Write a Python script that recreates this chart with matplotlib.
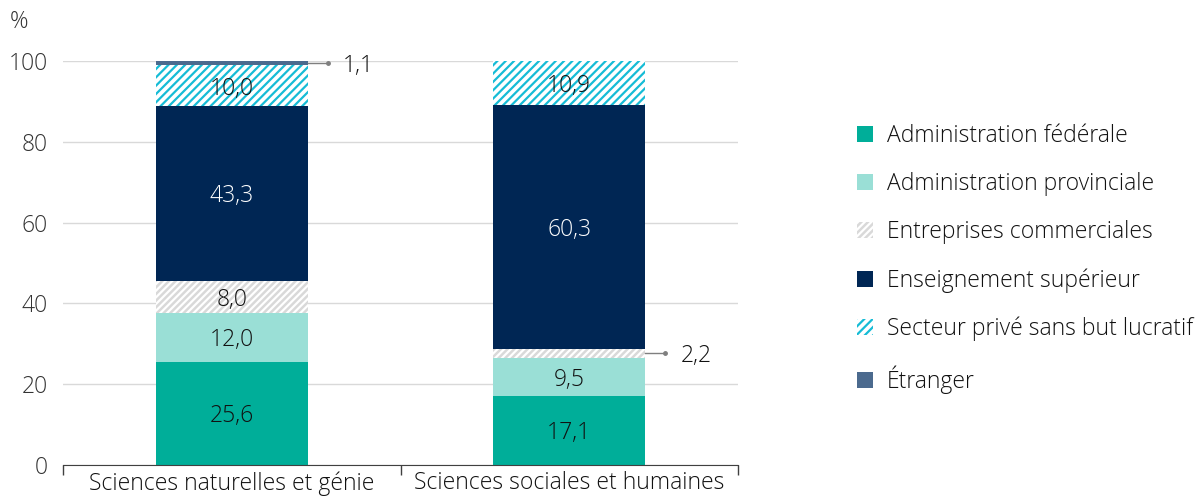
import matplotlib
matplotlib.use('Agg')
import numpy as np
import matplotlib.pyplot as plt

plt.rcParams['font.family'] = ['Open Sans', 'DejaVu Sans']
plt.rcParams['font.weight'] = 'light'
plt.rcParams['hatch.linewidth'] = 1.6

# donnees (%)
categories = ['Sciences naturelles et génie', 'Sciences sociales et humaines']
secteurs = ['Administration fédérale', 'Administration provinciale',
            'Entreprises commerciales', 'Enseignement supérieur',
            'Secteur privé sans but lucratif', 'Étranger']
valeurs = [
    [25.6, 17.1],   # Administration fédérale
    [12.0, 9.5],    # Administration provinciale
    [8.0, 2.2],     # Entreprises commerciales
    [43.3, 60.3],   # Enseignement supérieur
    [10.0, 10.9],   # Secteur privé sans but lucratif
    [1.1, 0.0],     # Étranger
]

# style de chaque serie : couleur de fond, hachure, couleur hachure, couleur texte
styles = [
    dict(face='#00ae99', hatch=None, edge='#00ae99', txt='#111111'),
    dict(face='#9adfd6', hatch=None, edge='#9adfd6', txt='#111111'),
    dict(face='#d9d9d9', hatch='/////', edge='white', txt='#111111'),
    dict(face='#002654', hatch=None, edge='#002654', txt='white'),
    dict(face='white', hatch='////', edge='#16bcd6', txt='#111111'),
    dict(face='#4b6a8e', hatch=None, edge='#4b6a8e', txt='#111111'),
]
fs = 16.5

fig = plt.figure(figsize=(11.98, 4.96), dpi=100)
ax = fig.add_axes([63 / 1198, 1 - 465 / 496, 675 / 1198, 404 / 496])

x = np.arange(len(categories))
largeur = 0.45
bas = np.zeros(len(categories))
handles = []
for i, nom in enumerate(secteurs):
    st = styles[i]
    v = np.array(valeurs[i])
    bars = ax.bar(x, v, largeur, bottom=bas, color=st['face'], edgecolor=st['edge'],
                  hatch=st['hatch'], linewidth=0, label=nom, zorder=3)
    handles.append(bars)
    for j, val in enumerate(v):
        if val >= 5:
            ax.text(x[j], bas[j] + val / 2, f'{val:.1f}'.replace('.', ','),
                    ha='center', va='center_baseline', fontsize=fs, color=st['txt'],
                    zorder=5)
        elif val > 0:
            # petite valeur : etiquette a droite avec trait de rappel
            yc = bas[j] + val / 2
            x0 = x[j] + largeur / 2
            ax.plot([x0, x0 + 0.06], [yc, yc], color='#7f7f7f', lw=1, zorder=4,
                    clip_on=False)
            ax.plot([x0 + 0.06], [yc], 'o', color='#7f7f7f', ms=2.5, zorder=4,
                    clip_on=False)
            ax.text(x0 + 0.105, yc, f'{val:.1f}'.replace('.', ','), ha='left',
                    va='center_baseline', fontsize=fs, color='#111111')
    bas += v

ax.set_xlim(-0.5, 1.5)
ax.set_ylim(0, 100)
ax.set_yticks(range(0, 101, 20))
ax.yaxis.grid(True, color='#d9d9d9', lw=1, zorder=0)
ax.tick_params(axis='y', length=0, pad=11, labelsize=fs, labelcolor='#333333')
ax.set_xticks(x)
ax.set_xticklabels(categories)
ax.set_xticks([-0.5, 0.5, 1.5], minor=True)
ax.tick_params(axis='x', which='major', length=0, pad=4.5, labelsize=fs, labelcolor='#111111')
ax.tick_params(axis='x', which='minor', length=7, width=1, color='#404040')
for s in ['top', 'right', 'left']:
    ax.spines[s].set_visible(False)
ax.spines['bottom'].set_color('#404040')
ax.spines['bottom'].set_zorder(6)

fig.text(10 / 1198, 1 - 22 / 496, '%', fontsize=fs, color='#333333', va='center')

fig.legend(handles=handles, labels=secteurs, loc='upper left',
           bbox_to_anchor=(850 / 1198, 1 - 117 / 496), frameon=False, fontsize=fs,
           handlelength=0.7, handleheight=0.7, handletextpad=0.6, labelspacing=1.05,
           labelcolor='#111111', borderaxespad=0, borderpad=0.3)

plt.savefig('out.png', dpi=100)
